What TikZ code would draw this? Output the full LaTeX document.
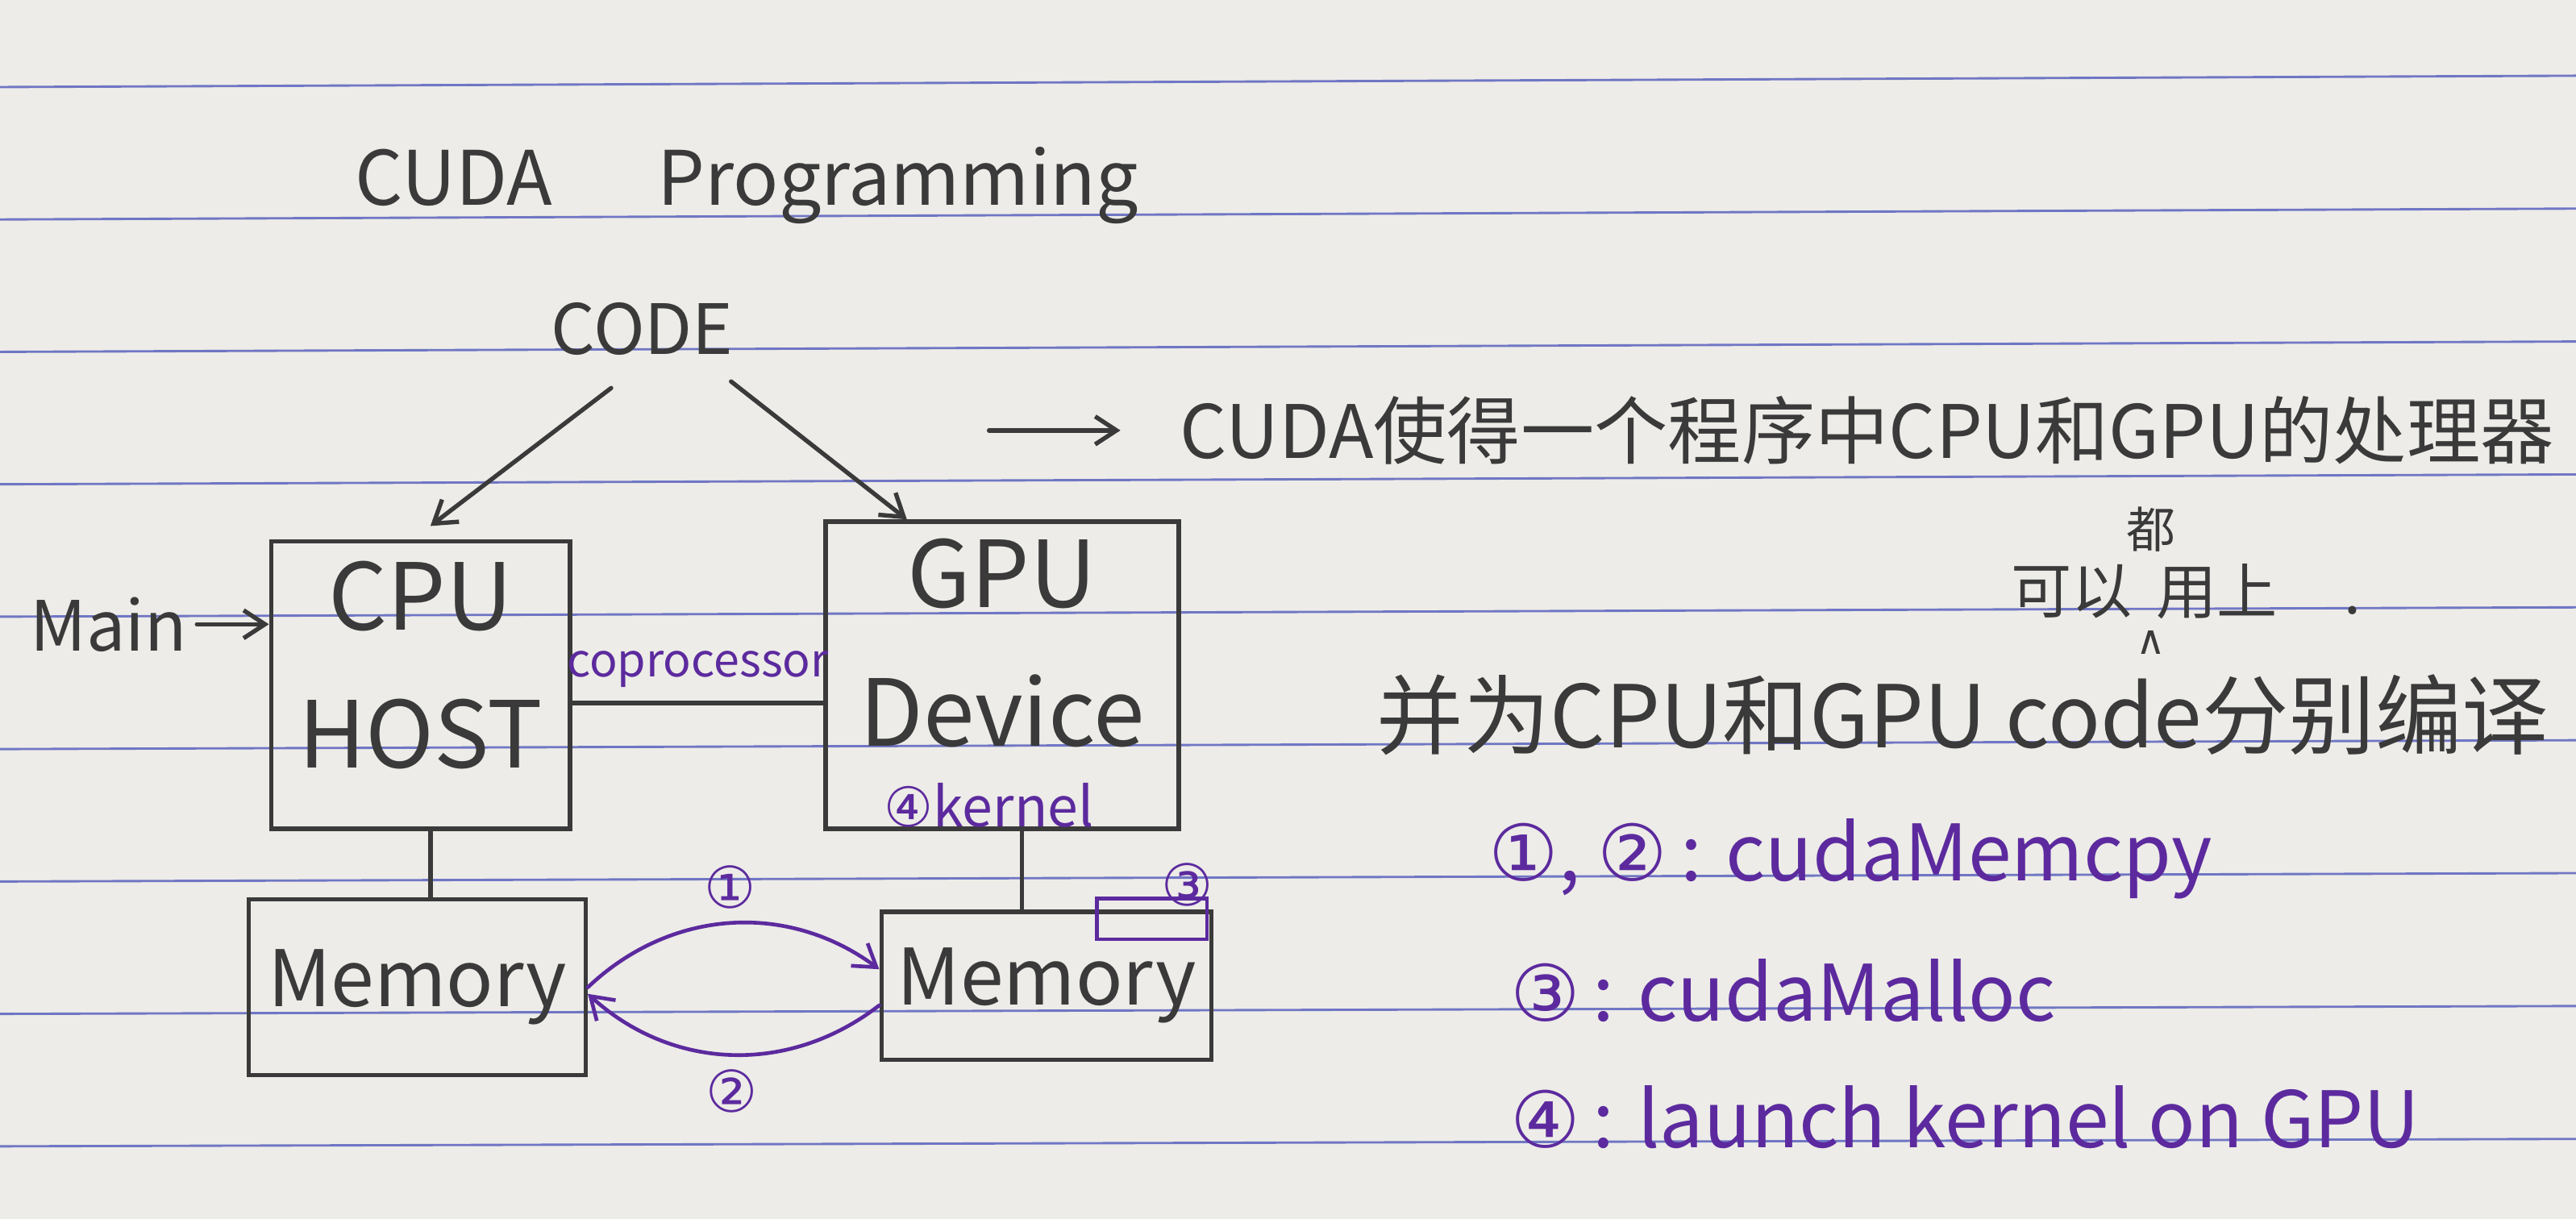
\documentclass[tikz,border=0pt]{standalone}
\usepackage{fontspec}
\setmainfont{Noto Sans CJK SC}
\newfontfamily\symfont{DejaVu Sans}
\usepackage{tikz}
\usetikzlibrary{arrows.meta,positioning,calc}
\definecolor{paper}{RGB}{237,236,232}
\definecolor{ink}{RGB}{58,58,58}
\definecolor{inkpurple}{RGB}{92,42,158}
\definecolor{ruleblue}{RGB}{112,118,196}

\begin{document}
\begin{tikzpicture}[x=0.2mm,y=-0.2mm,
    >={Straight Barb[length=2.6mm,width=3.4mm]},
    every node/.style={text=ink},
    pen/.style={draw=ink,line width=1.5pt,line cap=round},
    purplepen/.style={draw=inkpurple,line width=1.3pt,line cap=round},
    box/.style={pen,align=center,inner sep=0pt,font=\fontsize{32}{48}\selectfont},
    membox/.style={pen,inner sep=0pt,font=\fontsize{27}{32}\selectfont},
    note/.style={anchor=west,text=inkpurple,font=\fontsize{27}{32}\selectfont},
    numtag/.style={text=inkpurple,inner sep=0pt,font=\symfont\fontsize{20}{22}\selectfont},
    ruleline/.style={draw=ruleblue,line width=0.8pt}]
  \useasboundingbox (0,0) rectangle (1568,742);
  \fill[paper] (0,0) rectangle (1568,742);
  % ruled paper
  \foreach \i in {0,...,8}
    \draw[ruleline] (0,{53.0+80.6*\i}) -- (1568,{46.1+80.9*\i});

  \node[anchor=west,font=\fontsize{26}{30}\selectfont] (title) at (210,113) {CUDA\hspace{1.4em}Programming};
  \node[font=\fontsize{24}{28}\selectfont] (code) at (391,200) {CODE};

  % host and device
  \node[box,minimum width=36.4mm,minimum height=35mm,text depth=5mm] (cpu) at (256,417) {CPU\\HOST};
  \node[box,minimum width=43mm,minimum height=37.4mm,text depth=8mm] (gpu) at (610,411) {GPU\\Device};
  \node[membox,minimum width=41mm,minimum height=21.4mm] (hostmem) at (254,601) {Memory};
  \node[membox,minimum width=40.2mm,minimum height=18mm] (devmem) at (637,600) {Memory};
  \node[font=\fontsize{24}{28}\selectfont] (mainlbl) at (66,380) {Main};

  \draw[pen,->] (mainlbl.east) -- (mainlbl.east -| cpu.west);
  \draw[pen,->] ([xshift=-3.8mm,yshift=-2.8mm]code.south) -- ([xshift=1.2mm,yshift=1.6mm]cpu.north);
  \draw[pen,->] ([xshift=10.8mm,yshift=-2mm]code.south) -- ([xshift=-11.6mm]gpu.north);
  \draw[pen] ([yshift=-2.2mm]cpu.east) -- ([yshift=-2.2mm]cpu.east -| gpu.west)
       node[midway,above=0.5mm,text=inkpurple,font=\fontsize{16}{18}\selectfont] (copro) {coprocessor};
  \draw[pen] ([xshift=1.2mm]cpu.south) -- ([xshift=1.2mm]cpu.south |- hostmem.north);
  \draw[pen] ([xshift=2.4mm]gpu.south) -- ([xshift=2.4mm]gpu.south |- devmem.north);

  \node[anchor=south,text=inkpurple,font=\fontsize{19}{21}\selectfont,inner sep=1pt] (kerneltag)
       at ([xshift=-1.6mm]gpu.south) {{\symfont ④}kernel};
  \node[draw=inkpurple,line width=1.3pt,minimum width=13.4mm,minimum height=5mm,inner sep=0pt,
        anchor=north east] (allocblk) at ([xshift=-0.6mm,yshift=1.6mm]devmem.north east) {};
  \node[numtag] (tagthree) at ([xshift=-2.6mm,yshift=1.4mm]allocblk.north east) {③};

  % cudaMemcpy both ways
  \draw[purplepen,->] (hostmem.east) to[bend left=40]
       node[midway,above=1.6mm,numtag] (tagone) {①} ([yshift=2mm]devmem.west);
  \draw[purplepen,->] ([yshift=-2.4mm]devmem.west) to[bend left=40]
       node[midway,below=1.6mm,numtag] (tagtwo) {②} ([yshift=-0.8mm]hostmem.east);

  % notes on the right
  \coordinate (arrtail) at (602,262);
  \node[anchor=west,font=\fontsize{25.5}{30}\selectfont] (txtA) at (712,262) {CUDA使得一个程序中CPU和GPU的处理器};
  \draw[pen,->,shorten >=6mm] (arrtail) -- (txtA.west);
  \node[anchor=west,font=\fontsize{21}{24}\selectfont] (keyi) at (1218,360) {可以};
  \node[right=0.4mm of keyi,font=\fontsize{21}{24}\selectfont] (yongshang) {用上\hspace{1.1em}.};
  \node[above=0.2mm of keyi.north east,xshift=1mm,font=\fontsize{17}{20}\selectfont,inner sep=0pt] (dou) {都};
  \node[below=-1mm of keyi.south east,xshift=1mm,font=\symfont\fontsize{14}{16}\selectfont] (caret) {∧};
  \node[anchor=west,font=\fontsize{30}{34}\selectfont] (txtB) at (832,435) {并为CPU和GPU code分别编译};

  \node[note] (noteA) at (900,523) {{\symfont ①}, {\symfont ②}\,: cudaMemcpy};
  \node[note] (noteB) at (913,603) {{\symfont ③}\,: cudaMalloc};
  \node[note] (noteC) at (913,680) {{\symfont ④}\,: launch kernel on GPU};
\end{tikzpicture}
\end{document}
